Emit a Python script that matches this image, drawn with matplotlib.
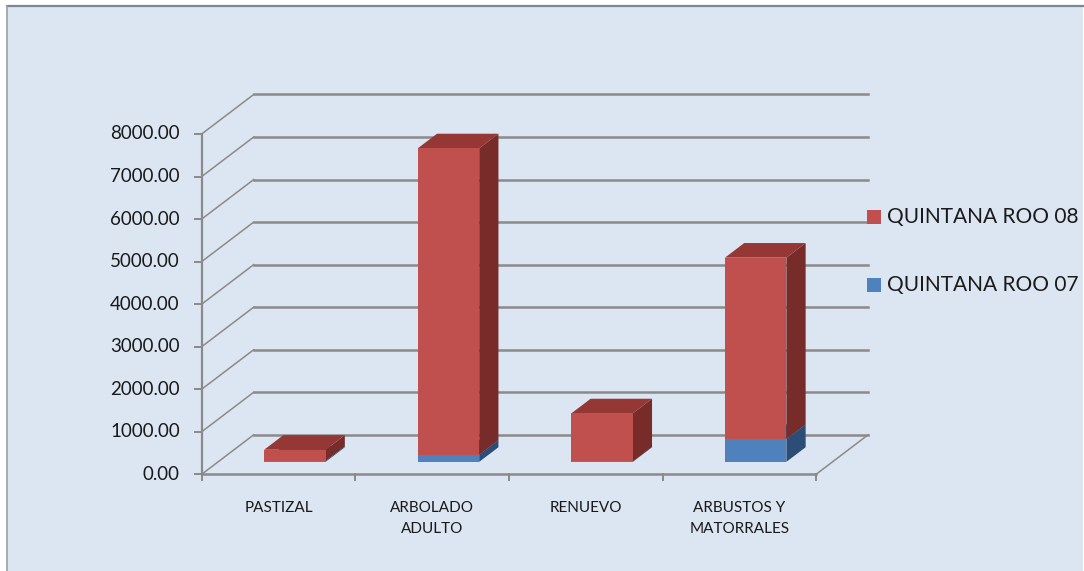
import matplotlib
matplotlib.use("Agg")
import matplotlib.pyplot as plt
from matplotlib.patches import Polygon, Rectangle

categories = ["PASTIZAL", "ARBOLADO\nADULTO", "RENUEVO", "ARBUSTOS Y\nMATORRALES"]
qroo_07 = [25, 170, 10, 540]
qroo_08 = [260, 7200, 1130, 4260]
series_names = ["QUINTANA ROO 07", "QUINTANA ROO 08"]
y_ticks = [0, 1000, 2000, 3000, 4000, 5000, 6000, 7000, 8000]

# face colours: front, side, top
blue = ("#4f81bd", "#2c4d75", "#3a6496")
red = ("#c0504d", "#772c2a", "#953735")
grid_col = "#8a8a8a"

W, H = 1084, 571
X0, Y0 = 201.7, 474.3      # front-left floor corner, pixels from top-left
CW = 153.6                 # pixels per category
SY = 42.54 / 1000          # pixels per value unit
DEPTH_PX = (52, 39.5)      # oblique offset of the back wall

plt.rcParams['font.family'] = ['Lato', 'DejaVu Sans']

fig = plt.figure(figsize=(W / 100, H / 100), dpi=100)
fig.patch.set_facecolor("white")

# chart area frame
fig.add_artist(Rectangle((6.5 / W, 0), (W - 7.5) / W, (H - 6.5) / H,
                         transform=fig.transFigure, fc="#dce6f2", ec="none", zorder=0))
fig.add_artist(plt.Line2D([6.5 / W, 1], [(H - 6) / H] * 2, transform=fig.transFigure,
                          color="#7d8793", lw=1.6, zorder=0))
fig.add_artist(plt.Line2D([6.5 / W] * 2, [0, (H - 6) / H], transform=fig.transFigure,
                          color="#9aa0a8", lw=1.2, zorder=0))

ax = fig.add_axes([0, 0, 1, 1])
ax.set_zorder(2)
ax.set_xlim(-X0 / CW, (W - X0) / CW)
ax.set_ylim((Y0 - H) / SY, Y0 / SY)
ax.axis("off")

DX = DEPTH_PX[0] / CW
DY = DEPTH_PX[1] / SY
n = len(categories)


def proj(x, v, d):
    return (x + d * DX, v + d * DY)


# walls, gridlines and value axis
for v in y_ticks:
    ax.plot([0, DX], [v, v + DY], color=grid_col, lw=1.1, zorder=1)
    ax.plot([DX, n + DX], [v + DY, v + DY], color=grid_col, lw=1.8, zorder=1)
    ax.plot([-7 / CW, 0], [v, v], color=grid_col, lw=1.4, zorder=1)
    ax.text(-22 / CW, v, f"{v:.2f}", ha="right", va="center", fontsize=13.5,
            color="#1a1a1a")
ax.plot([0, 0], [0, y_ticks[-1]], color=grid_col, lw=1.6, zorder=1)

# floor
ax.plot([0, n], [0, 0], color=grid_col, lw=1.8, zorder=1)
ax.plot([n, n + DX], [0, DY], color=grid_col, lw=1.1, zorder=1)
for i in range(n + 1):
    ax.plot([i, i], [0, -6 / SY], color=grid_col, lw=1.4, zorder=1)

for i, lab in enumerate(categories):
    ax.text(i + 0.5, -27 / SY, lab, ha="center", va="top", fontsize=11,
            linespacing=1.65, color="#1a1a1a")

# stacked 3d bars
d0, d1 = 0.315, 0.685
for i in range(n):
    base = 0
    for vals, cols in zip([qroo_07, qroo_08], [blue, red]):
        top = base + vals[i]
        x0, x1 = i + 0.3, i + 0.7
        front = [proj(x0, base, d0), proj(x1, base, d0), proj(x1, top, d0), proj(x0, top, d0)]
        side = [proj(x1, base, d0), proj(x1, base, d1), proj(x1, top, d1), proj(x1, top, d0)]
        lid = [proj(x0, top, d0), proj(x1, top, d0), proj(x1, top, d1), proj(x0, top, d1)]
        ax.add_patch(Polygon(side, closed=True, fc=cols[1], ec="none", zorder=3))
        ax.add_patch(Polygon(lid, closed=True, fc=cols[2], ec="none", zorder=3))
        ax.add_patch(Polygon(front, closed=True, fc=cols[0], ec="none", zorder=3))
        base = top

# legend
for k, (name, cols) in enumerate(zip(series_names[::-1], [red, blue])):
    yc = 217 + k * 68
    ax.add_artist(Rectangle((867 / W, (H - yc - 7) / H), 14 / W, 14 / H,
                            transform=fig.transFigure, fc=cols[0], ec="none"))
    ax.text(887 / W, (H - yc) / H, name, ha="left", va="center", fontsize=15,
            color="#1a1a1a", transform=fig.transFigure)

fig.savefig("out.png", dpi=100)
